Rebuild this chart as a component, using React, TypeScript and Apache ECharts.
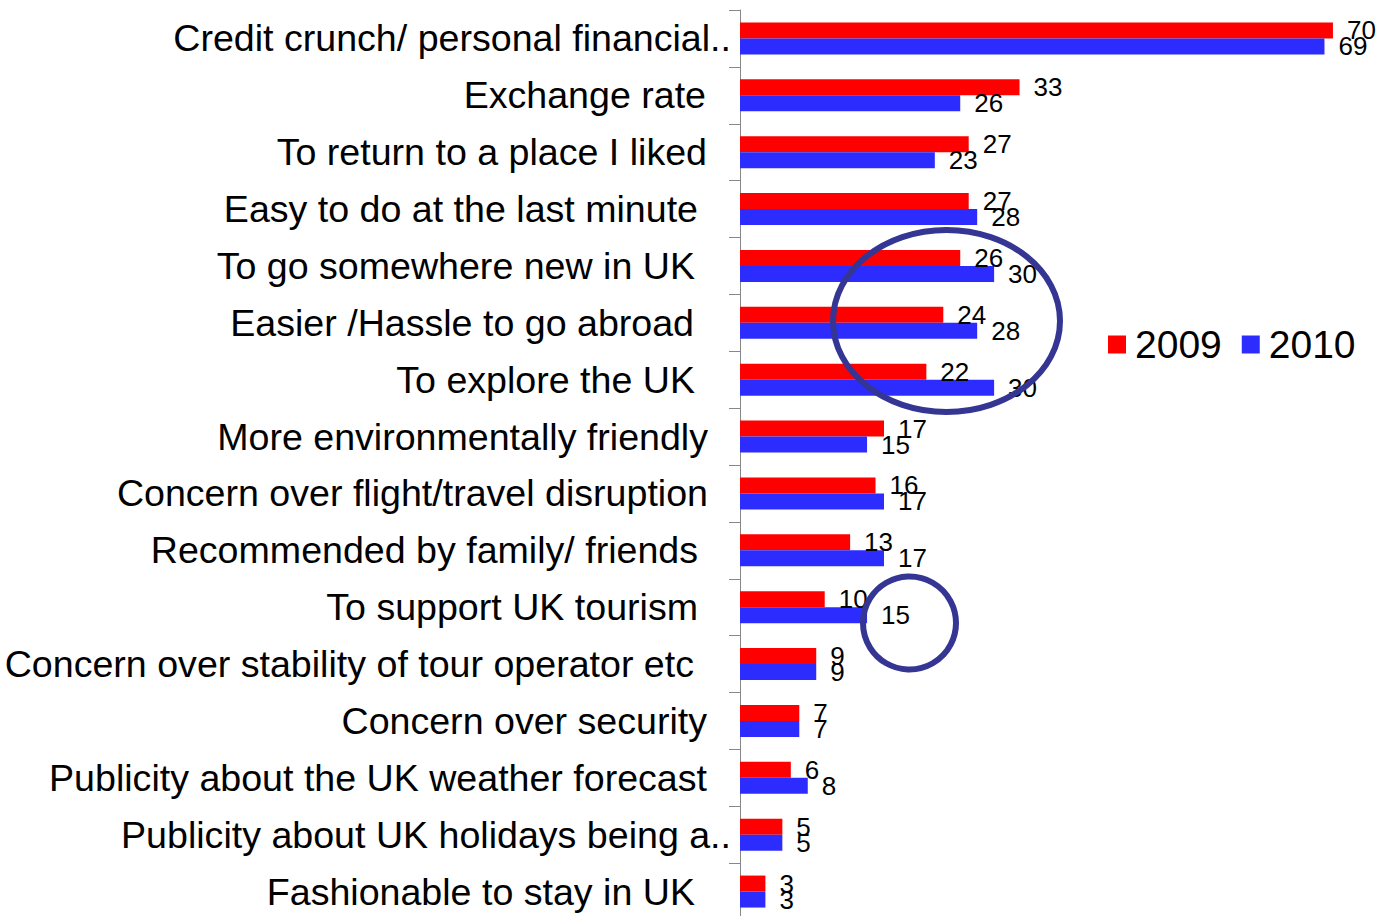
import React, { useEffect, useRef } from "react";
import * as echarts from "echarts";

const categories: string[] = [
  "Credit crunch/ personal financial..",
  "Exchange rate",
  "To return to a place I liked",
  "Easy to do at the last minute",
  "To go somewhere new in UK",
  "Easier /Hassle to go abroad",
  "To explore the UK",
  "More environmentally friendly",
  "Concern over flight/travel disruption",
  "Recommended by family/ friends",
  "To support UK tourism",
  "Concern over stability of tour operator etc",
  "Concern over security",
  "Publicity about the UK weather forecast",
  "Publicity about UK holidays being a..",
  "Fashionable to stay in UK",
];

const values2009: number[] = [70, 33, 27, 27, 26, 24, 22, 17, 16, 13, 10, 9, 7, 6, 5, 3];
const values2010: number[] = [69, 26, 23, 28, 30, 28, 30, 15, 17, 17, 15, 9, 7, 8, 5, 3];

const seriesNames: string[] = ["2009", "2010"];

// styling only: right padding of each category label (px)
const labelPadRight: number[] = [0, 25, 24, 33, 36, 37, 36, 23, 23, 33, 33, 37, 24, 24, 0, 36];

const FONT = "'Liberation Sans', Arial, sans-serif";
const CAT_FONT_SIZE = 37.6;

export default function App() {
  const ref = useRef<HTMLDivElement>(null);

  useEffect(() => {
    if (!ref.current) return;
    const chart = echarts.init(ref.current, undefined, { renderer: "svg" });

    const rich: Record<string, any> = {};
    labelPadRight.forEach((p) => {
      rich["p" + p] = {
        fontSize: CAT_FONT_SIZE,
        fontFamily: FONT,
        color: "#000",
        padding: [0, p, 0, 0],
      };
    });

    const labelStyle = {
      show: true,
      position: "right" as const,
      distance: 14,
      fontSize: 26,
      fontFamily: FONT,
      color: "#000",
    };

    chart.setOption({
      animation: false,
      backgroundColor: "#fff",
      textStyle: { fontFamily: FONT },
      grid: {
        left: 740,
        right: 7.7,
        top: 10,
        bottom: 0,
        containLabel: false,
        outerBoundsMode: "none",
      },
      legend: {
        data: seriesNames,
        left: 1103,
        top: 320,
        icon: "rect",
        itemWidth: 18,
        itemHeight: 18,
        itemGap: 20,
        textStyle: {
          fontSize: 39,
          fontFamily: FONT,
          color: "#000",
          padding: [0, 0, 0, 4],
        },
      },
      xAxis: {
        type: "value",
        min: 0,
        max: 75,
        show: false,
        splitLine: { show: false },
      },
      yAxis: {
        type: "category",
        data: categories,
        inverse: true,
        axisLine: { show: true, lineStyle: { color: "#888", width: 1 } },
        axisTick: { show: true, length: 11, lineStyle: { color: "#888", width: 1 } },
        axisLabel: {
          margin: 9,
          fontSize: CAT_FONT_SIZE,
          fontFamily: FONT,
          color: "#000",
          formatter: (value: string, index: number) =>
            "{p" + labelPadRight[index] + "|" + value + "}",
          rich,
        },
        splitLine: { show: false },
      },
      series: [
        {
          name: seriesNames[0],
          type: "bar",
          data: values2009,
          barWidth: 16,
          barGap: "0%",
          itemStyle: { color: "#FF0000" },
          label: labelStyle,
        },
        {
          name: seriesNames[1],
          type: "bar",
          data: values2010,
          barWidth: 16,
          barGap: "0%",
          itemStyle: { color: "#2C2CFF" },
          label: labelStyle,
        },
      ],
      graphic: [
        {
          type: "ellipse",
          z: 100,
          shape: { cx: 946.5, cy: 321, rx: 113.5, ry: 91 },
          style: { fill: "transparent", stroke: "#353594", lineWidth: 6 },
        },
        {
          type: "circle",
          z: 100,
          shape: { cx: 909.5, cy: 623, r: 46.5 },
          style: { fill: "transparent", stroke: "#353594", lineWidth: 6 },
        },
      ],
    });

    return () => chart.dispose();
  }, []);

  return (
    <div
      ref={ref}
      style={{ position: "fixed", left: 0, top: 0, width: 1383, height: 920, background: "#fff" }}
    />
  );
}
